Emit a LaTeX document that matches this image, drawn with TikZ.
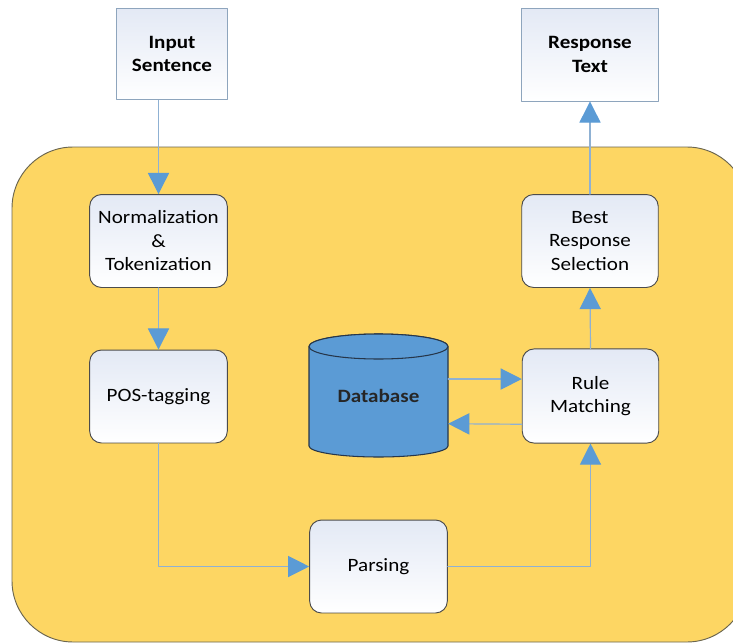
\documentclass[tikz,border=0pt]{standalone}
\usepackage{fontspec}
\setmainfont{Carlito}[FakeStretch=1.12]
\usepackage{xcolor}
\usetikzlibrary{arrows.meta,calc,positioning}
\definecolor{panelfill}{HTML}{FDD663}
\definecolor{paneledge}{HTML}{6B6650}
\definecolor{flowline}{HTML}{8FB1D3}
\definecolor{flowtip}{HTML}{5B9BD5}
\definecolor{boxtint}{HTML}{E3E9F5}
\definecolor{ioedge}{HTML}{8EA5BD}
\definecolor{dbedge}{HTML}{26364A}
\newcommand{\diagfont}{\fontsize{16}{20}\selectfont}
\tikzset{
  iobox/.style={rectangle, draw=ioedge, line width=0.8pt, top color=boxtint, bottom color=white, align=center, font=\diagfont\bfseries},
  stage/.style={rectangle, rounded corners=10pt, draw=black!70, line width=0.8pt, top color=boxtint, bottom color=white, align=center, font=\diagfont, minimum width=117pt, minimum height=79pt},
  panel/.style={fill=panelfill, draw=paneledge, line width=0.8pt, rounded corners=52pt},
  dbshape/.style={fill=flowtip, draw=dbedge, line width=0.9pt},
  flow/.style={draw=flowline, line width=1pt, -{Triangle[length=18pt,width=18pt,color=flowtip]}},
  every picture/.style={line cap=round, line join=round}
}

\begin{document}
\begin{tikzpicture}[x=0.85pt, y=-0.85pt]
  \useasboundingbox (0,0) rectangle (733,644);
  \draw[panel] (12,147) rectangle (748,642);

  \node[iobox, minimum width=95pt, minimum height=78pt] (inp) at (172,54) {Input\\Sentence};
  \node[iobox, minimum width=117pt, minimum height=79pt] (resp) at (590,54.5) {Response\\Text};

  \node[stage] (norm) at (158.5,241) {Normalization\\\&\\Tokenization};
  \node[stage] (pos) at (158.5,396.5) {POS-tagging};
  \node[stage] (parse) at (378.5,566.5) {Parsing};
  \node[stage, minimum width=116pt] (best) at (590,241) {Best\\Response\\Selection};
  \node[stage, minimum width=116pt, minimum height=80pt] (rule) at (590.5,396) {Rule\\Matching};

  % cylinder drawn by hand, node on top carries the label
  \filldraw[dbshape] (309,346.5) -- (309,446)
    arc[start angle=180, end angle=0, x radius=69.5, y radius=11]
    -- (448,346.5)
    arc[start angle=0, end angle=-180, x radius=69.5, y radius=12.5] -- cycle;
  \draw[dbshape] (378.5,346.5) ellipse [x radius=69.5, y radius=12.5];
  \node[inner sep=0pt, minimum width=118pt, minimum height=105pt, font=\diagfont\bfseries, text=black!85] (db) at (378.5,395.5) {Database};

  \draw[flow] (norm.north |- inp.south) -- (norm.north);
  \draw[flow] (norm.south) -- (pos.north);
  \draw[flow] (pos.south) |- (parse.west);
  \draw[flow] (parse.east) -| (rule.south);
  \draw[flow] (rule.north) -- (best.south);
  \draw[flow] (best.north) -- (resp.south);
  \draw[flow] ([yshift=14pt]db.east) -- ([yshift=14pt]db.east -| rule.west);
  \draw[flow] ([yshift=-24pt]rule.west) -- ([yshift=-24pt]db.east);
\end{tikzpicture}
\end{document}
